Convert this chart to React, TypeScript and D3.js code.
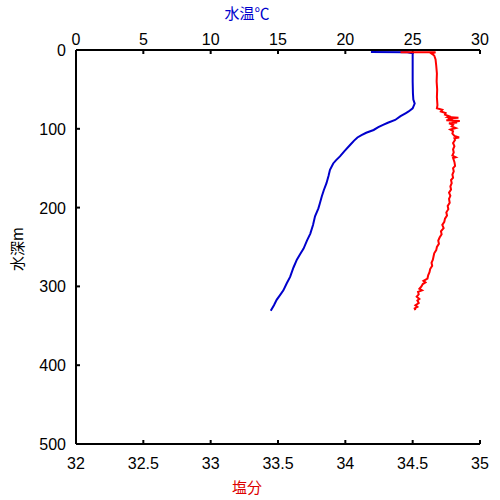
import React from "react";
import * as d3 from "d3";

const depthTicks = [0, 100, 200, 300, 400, 500];
const tempTicks = [0, 5, 10, 15, 20, 25, 30];
const salTicks = [32, 32.5, 33, 33.5, 34, 34.5, 35];

// [depth m, temperature °C]
const tempProfile: [number, number][] = [
  [2.5, 21.9], [2.8, 24.6], [4, 25.0], [20, 25.0], [40, 25.0], [55, 25.02], [63, 25.05],
  [68, 25.15], [74, 25.0], [78, 24.7], [80, 24.5], [84, 24.1], [88.8, 23.7], [92, 23.2],
  [95, 22.8], [98, 22.45], [101.5, 22.1], [105, 21.55], [108, 21.2], [111, 20.9], [115, 20.65],
  [120.6, 20.35], [128, 19.95], [135, 19.6], [140, 19.3], [144, 19.1], [152, 18.86],
  [160, 18.75], [169, 18.6], [178, 18.4], [186, 18.25], [195, 18.1], [201, 18.0],
  [211, 17.75], [222, 17.6], [233, 17.4], [242, 17.15], [252, 16.9], [259, 16.65],
  [266, 16.4], [276, 16.15], [288, 15.9], [296, 15.65], [305, 15.4], [311, 15.15],
  [317, 14.9], [324, 14.7], [331, 14.46],
];

// [depth m, salinity]
const salProfile: [number, number][] = [
  [2.8, 34.41], [3.0, 34.67], [4.5, 34.64], [7, 34.66], [12, 34.67], [20, 34.675], [30, 34.68],
  [40, 34.678], [50, 34.682], [60, 34.68], [70, 34.684], [74, 34.68], [76, 34.72], [78, 34.71],
  [80, 34.745], [82, 34.74], [84, 34.77], [85, 34.76], [86, 34.84], [87, 34.76], [88, 34.8],
  [89, 34.75], [90, 34.85], [91, 34.79], [92, 34.83], [93, 34.77], [95, 34.8], [97, 34.79],
  [99, 34.82], [101, 34.78], [103, 34.8], [106, 34.795], [109, 34.81], [111, 34.845],
  [112, 34.81], [114, 34.815], [118, 34.8], [122, 34.81], [126, 34.8], [130, 34.805],
  [134, 34.795], [136, 34.82], [137, 34.8], [142, 34.81], [147, 34.815], [150, 34.8],
  [154, 34.805], [158, 34.795], [162, 34.8], [165, 34.785], [169, 34.79], [173, 34.78],
  [177, 34.785], [181, 34.77], [185, 34.78], [189, 34.77], [194, 34.775], [198, 34.76],
  [202, 34.765], [206, 34.75], [210, 34.755], [214, 34.74], [218, 34.735], [222, 34.72],
  [226, 34.73], [230, 34.71], [234, 34.715], [238, 34.7], [242, 34.69], [246, 34.695],
  [250, 34.68], [254, 34.675], [258, 34.66], [262, 34.655], [266, 34.65], [270, 34.64],
  [274, 34.645], [278, 34.63], [282, 34.625], [286, 34.615], [290, 34.61], [293, 34.58],
  [295, 34.595], [297, 34.575], [300, 34.565], [303, 34.55], [305, 34.57], [307, 34.54],
  [310, 34.545], [313, 34.53], [316, 34.55], [318, 34.535], [321, 34.545], [324, 34.52],
  [326, 34.535], [328, 34.515], [330, 34.52],
];

const L = 76, R = 480, T = 50, B = 444;
const FONT = "'Liberation Sans', Arial, sans-serif";
const CJK = "'Noto Sans CJK JP', 'Noto Sans', sans-serif";

export default function App() {
  const y = d3.scaleLinear().domain([0, 500]).range([T, B]);
  const xT = d3.scaleLinear().domain([0, 30]).range([L, R]);
  const xS = d3.scaleLinear().domain([32, 35]).range([L, R]);

  const tempLine = d3.line<[number, number]>().x((d) => xT(d[1])).y((d) => y(d[0]));
  const salLine = d3.line<[number, number]>().x((d) => xS(d[1])).y((d) => y(d[0]));

  return (
    <svg width={500} height={500} style={{ position: "absolute", left: 0, top: 0, background: "#fff" }}>
      <rect x={0} y={0} width={500} height={500} fill="#fff" />

      {/* axes lines */}
      <line x1={L} x2={R} y1={T} y2={T} stroke="#000" strokeWidth={2} />
      <line x1={L} x2={R} y1={B} y2={B} stroke="#000" strokeWidth={2} />
      <line x1={L} x2={L} y1={T} y2={B} stroke="#000" strokeWidth={2} />

      {/* top ticks (temperature) */}
      {tempTicks.map((t) => (
        <g key={"t" + t}>
          <line x1={xT(t)} x2={xT(t)} y1={T} y2={T + 4} stroke="#000" strokeWidth={2} />
          <text x={xT(t)} y={45} textAnchor="middle" fontFamily={FONT} fontSize={16} fill="#000">{t}</text>
        </g>
      ))}
      {/* bottom ticks (salinity) */}
      {salTicks.map((s) => (
        <g key={"s" + s}>
          <line x1={xS(s)} x2={xS(s)} y1={B} y2={B - 4} stroke="#000" strokeWidth={2} />
          <text x={xS(s)} y={469} textAnchor="middle" fontFamily={FONT} fontSize={16} fill="#000">{s}</text>
        </g>
      ))}
      {/* left ticks (depth) */}
      {depthTicks.map((d) => (
        <g key={"d" + d}>
          <line x1={L} x2={L + 4} y1={y(d)} y2={y(d)} stroke="#000" strokeWidth={2} />
          <text x={66} y={y(d) + 6} textAnchor="end" fontFamily={FONT} fontSize={16} fill="#000">{d}</text>
        </g>
      ))}

      {/* data */}
      <path d={tempLine(tempProfile) || ""} fill="none" stroke="#0000cc" strokeWidth={2} />
      <path d={salLine(salProfile) || ""} fill="none" stroke="#ff0000" strokeWidth={2} />

      {/* titles */}
      <text x={247} y={19} textAnchor="middle" fontFamily={CJK} fontSize={15} fill="#0000cc">水温℃</text>
      <text x={247} y={493} textAnchor="middle" fontFamily={CJK} fontSize={15} fill="#dd0000">塩分</text>
      <text transform="translate(23,249) rotate(-90)" textAnchor="middle" fontFamily={CJK} fontSize={15} fill="#000">水深m</text>
    </svg>
  );
}
